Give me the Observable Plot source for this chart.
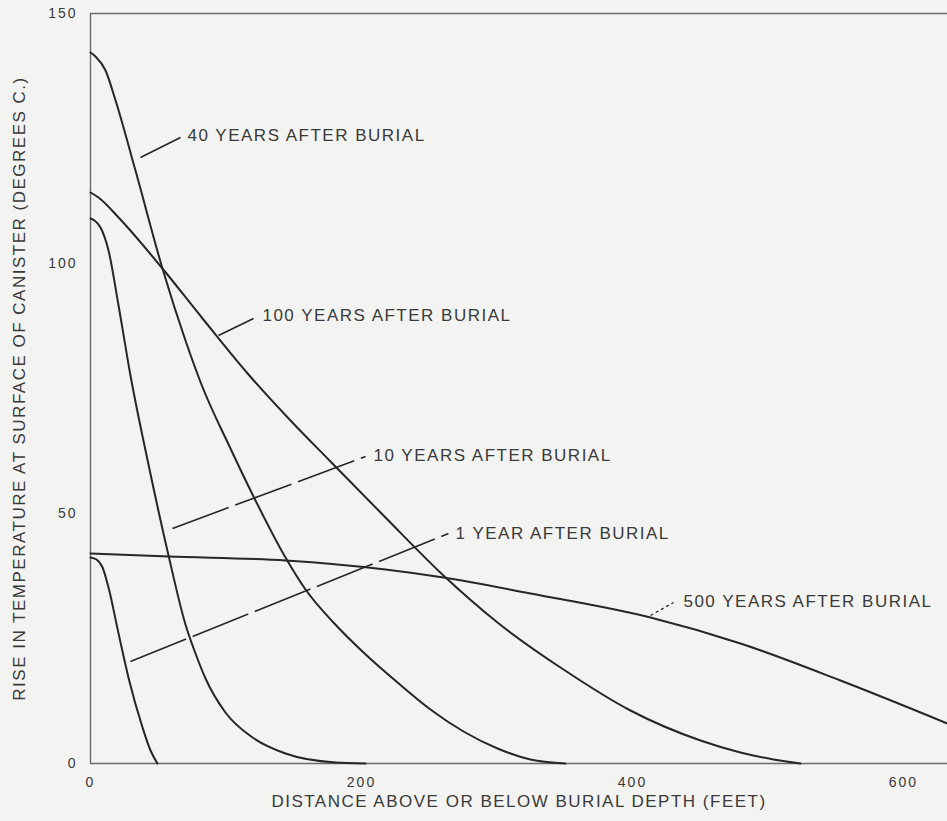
<!DOCTYPE html>
<html>
<head>
<meta charset="utf-8">
<script src="https://cdn.jsdelivr.net/npm/d3@7"></script>
<script src="https://cdn.jsdelivr.net/npm/@observablehq/plot@0.6"></script>
<style>
  html, body { margin: 0; padding: 0; background: #f3f3f1; }
  #chart svg text { letter-spacing: 2px; }
  #chart svg g[aria-label="text"] text { letter-spacing: 1.5px; }
</style>
</head>
<body>
<div id="chart"></div>
<script>
// ---- Data (distance in feet, temperature rise in °C) ----
const xTicks = [0, 200, 400, 600];
const yTicks = [0, 50, 100, 150];

const seriesNames = ["1 YEAR", "10 YEARS", "40 YEARS", "100 YEARS", "500 YEARS"];

const dist1yr = [0, 4.4, 8.9, 13.3, 20.7, 28, 38.4, 44.3, 49.4];
const temp1yr = [41.2, 40.8, 39.2, 35.2, 26, 17.2, 7.2, 2.6, 0];

const dist10yr = [0, 3.0, 7.4, 13.3, 20.7, 29.5, 42.8, 57.6, 70.1, 77.5, 84.9, 99.6, 119.6, 143.9, 180.8, 203];
const temp10yr = [109, 108.6, 107.2, 102.6, 91.6, 77.6, 59.8, 41.6, 27.8, 22, 17, 10.2, 5.2, 2, 0.2, 0];

const dist40yr = [0, 3.7, 11.1, 18.5, 33.2, 53.1, 70.1, 81.9, 103.3, 119.6, 143.9, 158.7, 179.3, 201.5, 226.6, 250.9, 275.3, 300.4, 324.7, 350.6];
const temp40yr = [142.2, 141.4, 138.6, 132.6, 118.6, 99, 84.6, 75.8, 63, 53.8, 41.2, 34.8, 28.2, 22.2, 16.2, 10.8, 6.4, 3, 0.8, 0];

const dist100yr = [0, 5.9, 20.7, 53.1, 82.7, 116.6, 147.6, 177.1, 217.7, 260.5, 300.4, 349.1, 398.5, 450.2, 479.7, 504.1, 524];
const temp100yr = [114.2, 113.2, 109.2, 99, 89, 77.8, 68.6, 60.4, 49.2, 37.6, 28.2, 18.8, 10.6, 4.6, 2.2, 0.8, 0];

const dist500yr = [0, 57.6, 143.9, 217.7, 260.5, 324.7, 413.3, 479.7, 553.5, 632.5];
const temp500yr = [42, 41.4, 40.6, 38.8, 37.2, 34, 29.2, 24, 16.6, 8];

// Annotation labels
const labelTexts = ["40 YEARS AFTER BURIAL", "100 YEARS AFTER BURIAL", "10 YEARS AFTER BURIAL", "1 YEAR AFTER BURIAL", "500 YEARS AFTER BURIAL"];
const labelX = [71.6, 126.9, 208.9, 269.4, 437.6];
const labelY = [125.6, 89.6, 61.6, 46, 32.4];
// Leader lines (curve side -> label side)
const leaderX1 = [36.9, 94.5, 60.5, 29.5, 413.3];
const leaderY1 = [121.2, 85.6, 47, 20.4, 29.6];
const leaderX2 = [66.4, 120.3, 203, 264.2, 430.3];
const leaderY2 = [125.2, 89, 61.4, 46, 32.2];

const xTitle = "DISTANCE ABOVE OR BELOW BURIAL DEPTH (FEET)";
const yTitle = "RISE IN TEMPERATURE AT SURFACE OF CANISTER (DEGREES C.)";

// ---- Build tables ----
const seriesData = [
  [dist1yr, temp1yr], [dist10yr, temp10yr], [dist40yr, temp40yr], [dist100yr, temp100yr], [dist500yr, temp500yr]
];
const rows = [];
seriesData.forEach(([ds, ts], k) => ds.forEach((d, i) => rows.push({series: seriesNames[k], d, t: ts[i]})));

const labels = labelTexts.map((text, i) => ({text, x: labelX[i], y: labelY[i]}));
const leaders = labelTexts.map((text, i) => ({x1: leaderX1[i], y1: leaderY1[i], x2: leaderX2[i], y2: leaderY2[i]}));
const solidLeaders = [leaders[0], leaders[1]];
const dashedLeaders = [leaders[2], leaders[3]];
const dottedLeaders = [leaders[4]];

const ink = "#262626";
const textInk = "#3a3a3a";

const chart = Plot.plot({
  width: 947,
  height: 821,
  marginLeft: 90,
  marginRight: 0,
  marginTop: 13,
  marginBottom: 58,
  style: {background: "#f3f3f1", fontFamily: "'Liberation Sans', Arial, sans-serif", fontSize: "14px", color: textInk},
  x: {domain: [0, 632.5], ticks: xTicks, tickSize: 0, tickPadding: 14, label: null, tickFormat: d => String(d)},
  y: {domain: [0, 150], ticks: yTicks, tickSize: 0, tickPadding: 13, label: null, tickFormat: d => String(d)},
  marks: [
    Plot.ruleY([0, 150], {stroke: "#6a6a6a", strokeWidth: 1.4}),
    Plot.ruleX([0], {stroke: "#6a6a6a", strokeWidth: 1.4}),
    Plot.line(rows, {x: "d", y: "t", z: "series", curve: "monotone-x", stroke: ink, strokeWidth: 2}),
    Plot.link(solidLeaders, {x1: "x1", y1: "y1", x2: "x2", y2: "y2", stroke: ink, strokeWidth: 1.6}),
    Plot.link(dashedLeaders, {x1: "x1", y1: "y1", x2: "x2", y2: "y2", stroke: ink, strokeWidth: 1.6, strokeDasharray: "60,7"}),
    Plot.link(dottedLeaders, {x1: "x1", y1: "y1", x2: "x2", y2: "y2", stroke: ink, strokeWidth: 1.3, strokeDasharray: "3,3"}),
    Plot.text(labels, {x: "x", y: "y", text: "text", textAnchor: "start", fontSize: 17, fill: textInk}),
    Plot.text([xTitle], {frameAnchor: "bottom", dy: 43, fontSize: 17, fill: textInk}),
    Plot.text([yTitle], {frameAnchor: "left", textAnchor: "middle", rotate: -90, dx: -71, fontSize: 17, fill: textInk})
  ]
});
document.getElementById("chart").appendChild(chart);
</script>
</body>
</html>
